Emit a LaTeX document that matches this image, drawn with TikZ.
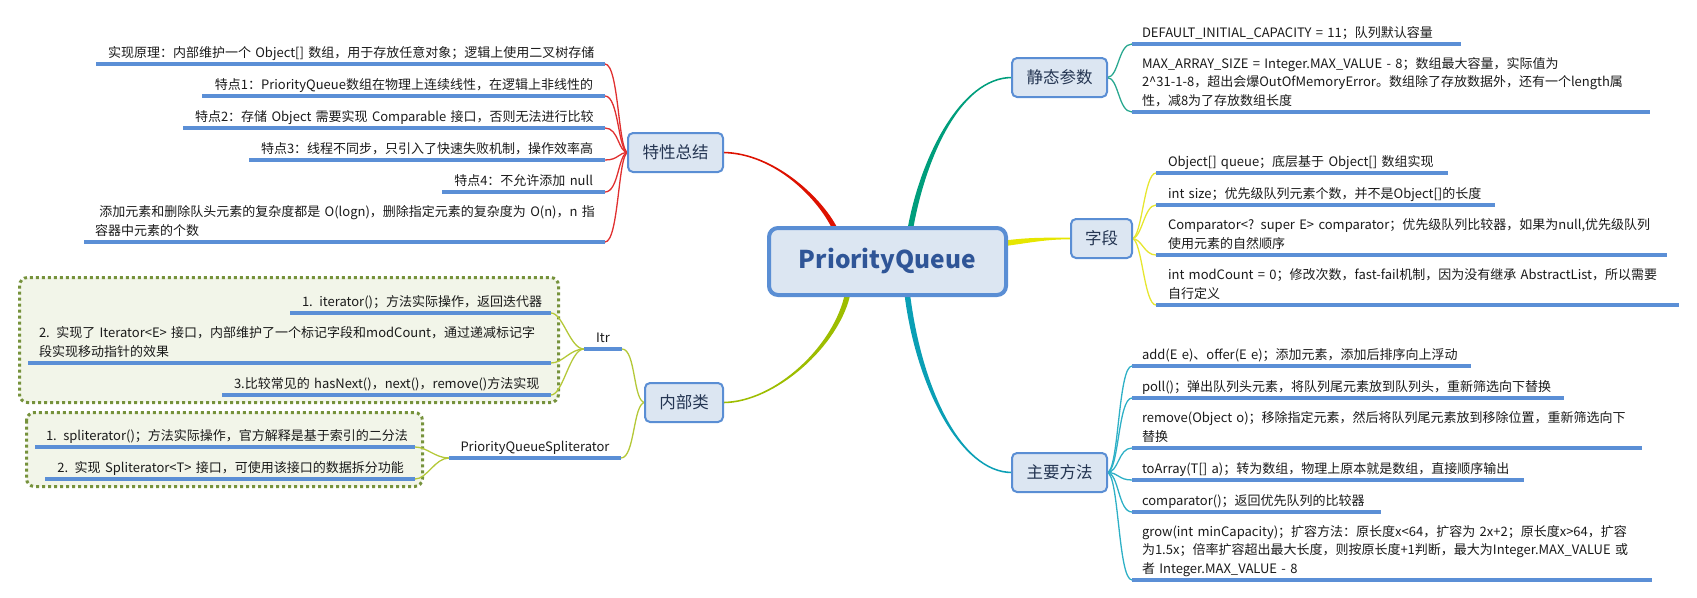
\documentclass[tikz,border=0pt]{standalone}
\usepackage{fontspec}
\setmainfont{Noto Sans CJK SC}
\usetikzlibrary{calc,backgrounds}

\definecolor{nfill}{HTML}{DCE6F2}
\definecolor{nborder}{HTML}{5A8ED4}
\definecolor{barblue}{HTML}{5B8FD6}
\definecolor{btext}{HTML}{243552}
\definecolor{ctext}{HTML}{2F5597}
\definecolor{ltext}{HTML}{1A1A1A}
\definecolor{cred}{HTML}{DD1100}
\definecolor{lred}{HTML}{E03030}
\definecolor{cteal}{HTML}{009E7C}
\definecolor{lteal}{HTML}{2AA890}
\definecolor{cyellow}{HTML}{E6E600}
\definecolor{lyellow}{HTML}{E6E630}
\definecolor{cyg}{HTML}{9DBD00}
\definecolor{lyg}{HTML}{B4C838}
\definecolor{ccyan}{HTML}{0A9FB5}
\definecolor{lcyan}{HTML}{2EB0C6}
\definecolor{dotborder}{HTML}{76923C}
\definecolor{dotfill}{HTML}{F2F5E9}

\newcommand\leaffont{\fontsize{13}{18.5}\selectfont}
\newcommand\lstrut{\rule[-5.5pt]{0pt}{14pt}}
\newcommand\lline[1]{\mbox{#1}}
% tapered main connector: color, start (at centre), control near start, control near end, end, half-width offset at start
\newcommand\taper[6]{%
  \fill[#1] ($#2+#6$) .. controls ($#3+#6$) and ($#4+(0,-0.8)$) .. ($#5+(0,-0.8)$)
    -- ($#5+(0,0.8)$) .. controls ($#4+(0,0.8)$) and ($#3-#6$) .. ($#2-#6$) -- cycle;}

\tikzset{
  cnode/.style={draw=nborder, line width=4pt, fill=nfill, rounded corners=9pt,
    minimum width=237pt, minimum height=67pt, inner sep=0pt, outer sep=0pt,
    text=ctext, font=\fontsize{24.5}{28}\selectfont\bfseries},
  bnode/.style={draw=nborder, line width=2pt, fill=nfill, rounded corners=5pt,
    minimum height=39pt, inner sep=0pt, outer sep=0pt,
    text=btext, font=\fontsize{16.5}{20}\selectfont},
  leafL/.style={anchor=south east, inner xsep=12pt, inner ysep=1.5pt, outer sep=0pt,
    align=right, font=\leaffont, text=ltext},
  leafR/.style={anchor=south west, inner xsep=10pt, inner ysep=1.5pt, outer sep=0pt,
    align=left, font=\leaffont, text=ltext},
  leafC/.style={anchor=south west, inner xsep=0pt, inner ysep=1.5pt, outer sep=0pt,
    align=center, font=\leaffont, text=ltext},
  bar/.style={draw=barblue, line width=4pt},
  twig/.style={line width=1.3pt},
  dotbox/.style={draw=dotborder, fill=dotfill, line width=3pt, dash pattern=on 3pt off 3pt,
    rounded corners=8pt}
}

\begin{document}
\begin{tikzpicture}[x=1pt, y=-1pt]
\useasboundingbox (0,0) rectangle (1697,597);

% ---------- central and branch nodes ----------
\node[cnode] (c) at (887.5,261.5) {PriorityQueue};
\node[bnode, minimum width=95pt] (A) at (675.5,152.5) {特性总结};
\node[bnode, minimum width=78pt] (N) at (684,402.5) {内部类};
\node[bnode, minimum width=95pt] (B1) at (1059.5,77.5) {静态参数};
\node[bnode, minimum width=61pt] (B2) at (1101.5,238.5) {字段};
\node[bnode, minimum width=95pt] (B3) at (1059.5,472.5) {主要方法};

% ---------- 特性总结 leaves ----------
\node[leafL, text width=485pt] (a1) at (605,64) {\lline{实现原理：内部维护一个 Object[] 数组，用于存放任意对象；逻辑上使用二叉树存储}\lstrut};
\node[leafL, text width=379pt] (a2) at (605,96) {\lline{特点1：PriorityQueue数组在物理上连续线性，在逻辑上非线性的}\lstrut};
\node[leafL, text width=398pt] (a3) at (605,128) {\lline{特点2：存储 Object 需要实现 Comparable 接口，否则无法进行比较}\lstrut};
\node[leafL, text width=332pt] (a4) at (605,160) {\lline{特点3：线程不同步，只引入了快速失败机制，操作效率高}\lstrut};
\node[leafL, text width=139pt] (a5) at (605,192) {\lline{特点4：不允许添加 null}\lstrut};
\node[leafL, align=left, inner xsep=11pt, text width=499pt] (a6) at (605,242) {\lline{ 添加元素和删除队头元素的复杂度都是 O(logn)，删除指定元素的复杂度为 O(n)，n 指}\\\lline{容器中元素的个数}\lstrut};

% ---------- 内部类 leaves ----------
\node[leafC, text width=38pt] (itr) at (584,349) {Itr\lstrut};
\node[leafC, text width=172pt] (pqs) at (449,458) {\lline{PriorityQueueSpliterator}\lstrut};
\node[leafL, text width=237pt] (i1) at (551,313) {\lline{1. iterator()；方法实际操作，返回迭代器}\lstrut};
\node[leafL, align=left, inner xsep=11pt, text width=501pt] (i2) at (551,363) {\lline{2. 实现了 Iterator<E> 接口，内部维护了一个标记字段和modCount，通过递减标记字}\\\lline{段实现移动指针的效果}\lstrut};
\node[leafL, text width=305pt] (i3) at (551,395) {\lline{3.比较常见的 hasNext()，next()，remove()方法实现}\lstrut};
\node[leafL, inner xsep=11pt, text width=358pt] (s1) at (415,447) {\lline{1. spliterator()；方法实际操作，官方解释是基于索引的二分法}\lstrut};
\node[leafL, inner xsep=11pt, text width=348pt] (s2) at (415,479) {\lline{2. 实现 Spliterator<T> 接口，可使用该接口的数据拆分功能}\lstrut};

% ---------- 静态参数 leaves ----------
\node[leafR, text width=309pt] (r1) at (1132,44) {\lline{DEFAULT\_INITIAL\_CAPACITY = 11；队列默认容量}\lstrut};
\node[leafR, text width=498pt] (r2) at (1132,112) {\lline{MAX\_ARRAY\_SIZE = Integer.MAX\_VALUE - 8；数组最大容量，实际值为}\\\lline{2\textasciicircum 31-1-8，超出会爆OutOfMemoryError。数组除了存放数据外，还有一个length属}\\\lline{性，减8为了存放数组长度}\lstrut};

% ---------- 字段 leaves ----------
\node[leafR, inner xsep=12pt, text width=268pt] (f1) at (1156,173) {\lline{Object[] queue；底层基于 Object[] 数组实现}\lstrut};
\node[leafR, inner xsep=12pt, text width=315pt] (f2) at (1156,205) {\lline{int size；优先级队列元素个数，并不是Object[]的长度}\lstrut};
\node[leafR, inner xsep=12pt, text width=487pt] (f3) at (1156,255) {\lline{Comparator<? super E> comparator；优先级队列比较器，如果为null,优先级队列}\\\lline{使用元素的自然顺序}\lstrut};
\node[leafR, inner xsep=12pt, text width=499pt] (f4) at (1156,305) {\lline{int modCount = 0；修改次数，fast-fail机制，因为没有继承 AbstractList，所以需要}\\\lline{自行定义}\lstrut};

% ---------- 主要方法 leaves ----------
\node[leafR, text width=319pt] (m1) at (1132,366) {\lline{add(E e)、offer(E e)；添加元素，添加后排序向上浮动}\lstrut};
\node[leafR, text width=412pt] (m2) at (1132,398) {\lline{poll()；弹出队列头元素，将队列尾元素放到队列头，重新筛选向下替换}\lstrut};
\node[leafR, text width=490pt] (m3) at (1132,448) {\lline{remove(Object o)；移除指定元素，然后将队列尾元素放到移除位置，重新筛选向下}\\\lline{替换}\lstrut};
\node[leafR, text width=372pt] (m4) at (1132,480) {\lline{toArray(T[] a)；转为数组，物理上原本就是数组，直接顺序输出}\lstrut};
\node[leafR, text width=229pt] (m5) at (1132,512) {\lline{comparator()；返回优先队列的比较器}\lstrut};
\node[leafR, text width=500pt] (m6) at (1132,580) {\lline{grow(int minCapacity)；扩容方法：原长度x<64，扩容为 2x+2；原长度x>64，扩容}\\\lline{为1.5x；倍率扩容超出最大长度，则按原长度+1判断，最大为Integer.MAX\_VALUE 或}\\\lline{者 Integer.MAX\_VALUE - 8}\lstrut};

% ---------- underlines ----------
\foreach \n in {a1,a2,a3,a4,a5,a6,itr,pqs,i1,i2,i3,s1,s2,r1,r2,f1,f2,f3,f4,m1,m2,m3,m4,m5,m6}
  \draw[bar] (\n.south west) -- (\n.south east);

% ---------- background: boxes and connectors ----------
\begin{scope}[on background layer]
  \draw[dotbox] (19.5,277.5) rectangle (558.5,402.5);
  \draw[dotbox] (26.5,412.5) rectangle (422.5,486.5);

  \taper{cred}{(c.north)+(-51.5,3)}{(822,200)}{(775,153)}{(A.east)}{(2.8,0)}
  \taper{cteal}{(c.north)+(22.5,3)}{(922,160)}{(960,77.5)}{(B1.west)}{(-2.8,0)}
  \taper{cyg}{(c.south)+(-39.5,-3)}{(838,345)}{(775,402.5)}{(N.east)}{(-2.8,0)}
  \taper{ccyan}{(c.south)+(19.5,-3)}{(918,385)}{(960,472.5)}{(B3.west)}{(2.8,0)}
  \taper{cyellow}{(c.east)+(-3,-18)}{(1030,240)}{(1045,238.5)}{(B2.west)}{(0,-2.8)}

  \foreach \n in {a1,a2,a3,a4,a5,a6}
    \draw[twig, lred] (A.west) .. controls +(-10,0) and +(14,0) .. (\n.south east);
  \foreach \n in {itr,pqs}
    \draw[twig, lyg] (N.west) .. controls +(-12,0) and +(14,0) .. (\n.south east);
  \foreach \n in {i1,i2,i3}
    \draw[twig, lyg] (itr.south west) .. controls +(-14,0) and +(12,0) .. (\n.south east);
  \foreach \n in {s1,s2}
    \draw[twig, lyg] (pqs.south west) .. controls +(-14,0) and +(12,0) .. (\n.south east);
  \foreach \n in {r1,r2}
    \draw[twig, lteal] (B1.east) .. controls +(12,0) and +(-14,0) .. (\n.south west);
  \foreach \n in {f1,f2,f3,f4}
    \draw[twig, lyellow] (B2.east) .. controls +(10,0) and +(-12,0) .. (\n.south west);
  \foreach \n in {m1,m2,m3,m4,m5,m6}
    \draw[twig, lcyan] (B3.east) .. controls +(12,0) and +(-14,0) .. (\n.south west);
\end{scope}
\end{tikzpicture}
\end{document}
